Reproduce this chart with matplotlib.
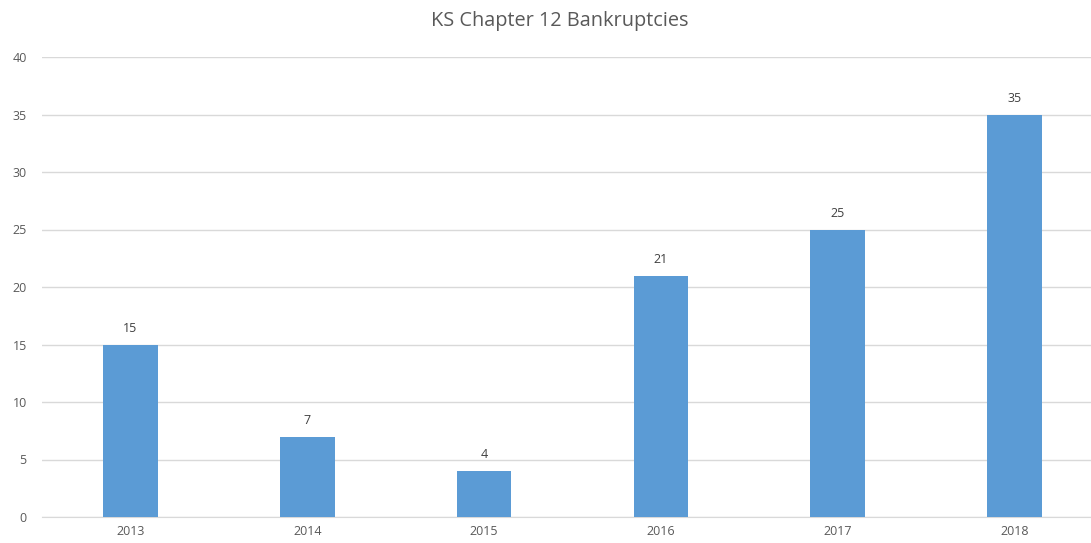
import matplotlib
matplotlib.use("Agg")
import matplotlib.pyplot as plt

years = ["2013", "2014", "2015", "2016", "2017", "2018"]
counts = [15, 7, 4, 21, 25, 35]
yticks = [0, 5, 10, 15, 20, 25, 30, 35, 40]

plt.rcParams['font.family'] = ['Open Sans', 'DejaVu Sans']
fig = plt.figure(figsize=(10.91, 5.43), dpi=100)
ax = fig.add_axes([42/1091, 26/543, 1061/1091, 460/543])

x = list(range(len(years)))
ax.bar(x, counts, width=0.31, color="#5B9BD5", zorder=3)
for xi, v in zip(x, counts):
    ax.annotate(str(v), (xi, v), xytext=(0, 7), textcoords="offset points",
                ha="center", va="bottom", fontsize=9, color="#404040")

ax.set_xlim(-0.5, len(years) - 0.5)
ax.set_ylim(0, 40)
ax.set_yticks(yticks)
ax.set_xticks(x)
ax.set_xticklabels(years)
ax.tick_params(axis="both", length=0, labelsize=9, colors="#595959")
ax.tick_params(axis="y", pad=11)
ax.tick_params(axis="x", pad=6)
ax.grid(axis="y", color="#D9D9D9", linewidth=1, zorder=0)
for s in ["top", "right", "left"]:
    ax.spines[s].set_visible(False)
ax.spines["bottom"].set_color("#D9D9D9")

fig.text(560/1091, 1 - 21/543, "KS Chapter 12 Bankruptcies", ha="center", va="center",
         fontsize=14.3, color="#595959")

fig.savefig("out.png", dpi=100)
